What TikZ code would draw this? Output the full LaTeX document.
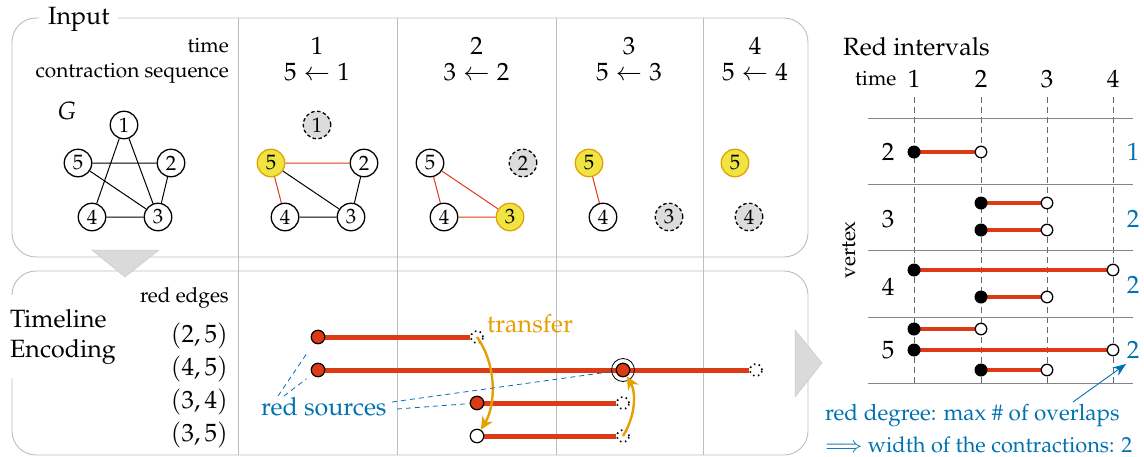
\documentclass[tikz,border=0pt]{standalone}
\usepackage[T1]{fontenc}
\usepackage{mathpazo}
\usetikzlibrary{arrows.meta}
\pgfdeclarelayer{bg}
\pgfsetlayers{bg,main}
\newcommand\fbig{\fontsize{25}{30}\selectfont}
\newcommand\fmid{\fontsize{22.5}{27}\selectfont}
\newcommand\fmidb{\fontsize{21.8}{27}\selectfont}
\newcommand\fsmall{\fontsize{20.8}{25}\selectfont}
\definecolor{oiorange}{HTML}{E69F00}
\definecolor{oiyellow}{HTML}{F0E442}
\definecolor{oiblue}{HTML}{0072B2}
\definecolor{rred}{HTML}{DD3B15}
\definecolor{panelgray}{HTML}{BDBDBD}
\definecolor{gonegray}{HTML}{DCDCDC}
\definecolor{trigray}{HTML}{DADADA}
\definecolor{gridgray}{HTML}{666666}
\tikzset{
  panel/.style={draw=panelgray, line width=0.9pt},
  gnode/.style={circle, draw, line width=1.3pt, minimum size=27.5pt, inner sep=0pt, fill=white, font=\fsmall},
  ynode/.style={gnode, fill=oiyellow, draw=oiorange},
  xnode/.style={gnode, fill=gonegray, dash pattern=on 3.5pt off 2.5pt},
  bedge/.style={line width=1pt, draw=black},
  redge/.style={line width=1pt, draw=rred},
  tline/.style={line width=5pt, draw=rred},
  rdot/.style={circle, draw, fill=rred, line width=1.2pt, minimum size=13.5pt, inner sep=0pt},
  wdotb/.style={circle, draw, fill=white, line width=1.2pt, minimum size=13.5pt, inner sep=0pt},
  enddot/.style={circle, draw, dash pattern=on 1.6pt off 3.4pt, line width=1.6pt, minimum size=12pt, inner sep=0pt},
  tarrow/.style={draw=oiorange, line width=2.4pt, -{Stealth[length=13pt, width=12pt]}},
  bdash/.style={draw=oiblue, line width=0.8pt, dash pattern=on 5pt off 4pt},
  barrow/.style={draw=oiblue, line width=0.9pt, -{Stealth[length=13pt, width=10pt]}},
  rline/.style={line width=4pt, draw=rred},
  bdot/.style={circle, fill=black, minimum size=13pt, inner sep=0pt},
  wdot/.style={circle, draw, fill=white, line width=1.3pt, minimum size=11.5pt, inner sep=0pt},
  vdash/.style={draw=gridgray, line width=0.8pt, dash pattern=on 6pt off 4pt},
  hline/.style={draw=gridgray!80, line width=1pt},
  txt/.style={inner sep=0pt},
  tri/.style={fill=trigray, draw=trigray!92!black, line width=0.5pt}
}
\newcommand\ivl[4]{%
  \node[bdot] (#1s) at (#2,#4) {};
  \node[wdot] (#1e) at (#3,#4) {};
  \begin{pgfonlayer}{bg}\draw[rline] (#1s.center) -- (#1e.center);\end{pgfonlayer}}
\begin{document}
\begin{tikzpicture}[x=1pt,y=-1pt]
\useasboundingbox (0,0) rectangle (1144,456);
\begin{pgfonlayer}{bg}
  \draw[panel, rounded corners=24pt] (12,18) rectangle (808,257);
  \draw[panel, rounded corners=24pt] (12,271) rectangle (808,455);
  \foreach \x in {238,397,556,703} \draw[panel] (\x,18) -- (\x,455);
  \foreach \x in {914,981,1047,1113} \draw[vdash] (\x,97) -- (\x,383);
  \foreach \y in {118,184,250,317,383} \draw[hline] (868,\y) -- (1133,\y);
\end{pgfonlayer}

% ---------- Input panel ----------
\node[font=\fbig, fill=white, inner xsep=9pt, inner ysep=2pt, anchor=base west] (inp) at (39,24) {Input};
\node[font=\fsmall, txt, anchor=base east] (hT) at (229,52) {time};
\node[font=\fsmall, txt, anchor=base east] (hC) at (229,77) {contraction sequence};
\node[font=\fbig, txt, anchor=base] (k1) at (317,54) {$1$};
\node[font=\fbig, txt, anchor=base] (q1) at (317,80) {$5\leftarrow 1$};
\node[font=\fbig, txt, anchor=base] (k2) at (476.5,54) {$2$};
\node[font=\fbig, txt, anchor=base] (q2) at (476.5,80) {$3\leftarrow 2$};
\node[font=\fbig, txt, anchor=base] (k3) at (629,54) {$3$};
\node[font=\fbig, txt, anchor=base] (q3) at (629,80) {$5\leftarrow 3$};
\node[font=\fbig, txt, anchor=base] (k4) at (755,54) {$4$};
\node[font=\fbig, txt, anchor=base] (q4) at (755,80) {$5\leftarrow 4$};
\node[font=\fbig, txt, anchor=base west] (Glab) at (57,119) {$G$};

% graph G
\node[gnode] (g1) at (124,125) {1};
\node[gnode] (g5) at (78,163) {5};
\node[gnode] (g2) at (171,163) {2};
\node[gnode] (g4) at (92,217) {4};
\node[gnode] (g3) at (158,217) {3};
\draw[bedge] (g1)--(g4) (g1)--(g3) (g5)--(g2) (g5)--(g3) (g2)--(g3) (g4)--(g3);

% column 1
\begin{scope}[shift={(193,0)}]
\node[xnode] (a1) at (124,125) {1};
\node[ynode] (a5) at (78,163) {5};
\node[gnode] (a2) at (171,163) {2};
\node[gnode] (a4) at (92,217) {4};
\node[gnode] (a3) at (158,217) {3};
\end{scope}
\draw[redge] (a5)--(a2) (a5)--(a4);
\draw[bedge] (a5)--(a3) (a2)--(a3) (a4)--(a3);

% column 2
\begin{scope}[shift={(352,0)}]
\node[gnode] (b5) at (78,163) {5};
\node[xnode] (b2) at (171,163) {2};
\node[gnode] (b4) at (92,217) {4};
\node[ynode] (b3) at (158,217) {3};
\end{scope}
\draw[redge] (b5)--(b4) (b5)--(b3) (b4)--(b3);

% column 3
\begin{scope}[shift={(511,0)}]
\node[ynode] (c5) at (78,163) {5};
\node[gnode] (c4) at (92,217) {4};
\node[xnode] (c3) at (158,217) {3};
\end{scope}
\draw[redge] (c5)--(c4);

% column 4
\begin{scope}[shift={(657,0)}]
\node[ynode] (d5) at (78,163) {5};
\node[xnode] (d4) at (92,217) {4};
\end{scope}

% ---------- Timeline panel ----------
\node[font=\fbig, fill=white, align=left, anchor=west, inner xsep=0pt, inner ysep=14pt] (tle) at (10,336.5) {Timeline\\Encoding};
\node[font=\fsmall, txt, anchor=base east] (redl) at (229,302) {red edges};
\node[font=\fbig, txt, anchor=base east] (p25) at (228,342) {$(2,5)$};
\node[font=\fbig, txt, anchor=base east] (p45) at (228,375) {$(4,5)$};
\node[font=\fbig, txt, anchor=base east] (p34) at (228,408) {$(3,4)$};
\node[font=\fbig, txt, anchor=base east] (p35) at (228,441) {$(3,5)$};

\node[rdot] (s25) at (318,337) {};
\node[enddot] (e25) at (477,337) {};
\node[rdot] (s45) at (318,370) {};
\node[rdot] (m45) at (623,370) {};
\node[enddot] (e45) at (756,370) {};
\node[rdot] (s34) at (477,403) {};
\node[enddot] (e34) at (623,403) {};
\node[wdotb] (s35) at (477,436) {};
\node[enddot] (e35) at (623,436) {};
\draw[line width=0.8pt] (m45) circle (11.5pt);
\begin{pgfonlayer}{bg}
  \draw[tline] (s25.center) -- (e25.west);
  \draw[tline] (s45.center) -- (e45.west);
  \draw[tline] (s34.center) -- (e34.west);
  \draw[tline] (s35.center) -- (e35.west);
\end{pgfonlayer}

\draw[tarrow] (e25.center) .. controls (497,365) and (496,405) .. (s35);
\draw[tarrow] (e35.center) .. controls (636,415) and (636,392) .. (m45);
\node[font=\fbig, text=oiorange, txt, anchor=base west] (tr) at (487,332) {transfer};

\node[font=\fbig, text=oiblue, txt, anchor=base west] (rs) at (261,415) {red sources};
\coordinate (rs1) at (278,396);
\coordinate (rs2) at (284,396);
\coordinate (rs3) at (392,402);
\coordinate (rs4) at (397,409);
\draw[bdash, shorten >=14pt] (rs1) -- (s25);
\draw[bdash, shorten >=7pt] (rs2) -- (s45);
\draw[bdash, shorten >=6pt] (rs3) -- (m45);
\draw[bdash] (rs4) -- (s34);

% ---------- Red intervals ----------
\node[font=\fbig, txt, anchor=base west] (ri) at (843,55) {Red intervals};
\node[font=\fsmall, txt, anchor=base west] (rtime) at (855,85) {time};
\node[font=\fbig, txt, anchor=base] (t1) at (914,87) {1};
\node[font=\fbig, txt, anchor=base] (t2) at (981,87) {2};
\node[font=\fbig, txt, anchor=base] (t3) at (1047,87) {3};
\node[font=\fbig, txt, anchor=base] (t4) at (1113,87) {4};
\node[font=\fbig, txt, anchor=base] (v2) at (888,160) {2};
\node[font=\fbig, txt, anchor=base] (v3) at (888,227) {3};
\node[font=\fbig, txt, anchor=base] (v4) at (888,295) {4};
\node[font=\fbig, txt, anchor=base] (v5) at (888,358) {5};
\node[font=\fsmall, txt, rotate=90] (vx) at (849,250) {vertex};
\node[font=\fbig, text=oiblue, txt, anchor=base] (w2) at (1133,160) {1};
\node[font=\fbig, text=oiblue, txt, anchor=base] (w3) at (1133,227) {2};
\node[font=\fbig, text=oiblue, txt, anchor=base] (w4) at (1133,293) {2};
\node[font=\fbig, text=oiblue, txt, anchor=base] (w5) at (1133,358) {2};

\ivl{ia}{914}{981}{152}
\ivl{ib}{981}{1047}{203}
\ivl{ic}{981}{1047}{230}
\ivl{id}{914}{1113}{270}
\ivl{ie}{981}{1047}{297}
\ivl{if}{914}{981}{329}
\ivl{ig}{914}{1113}{350}
\ivl{ih}{981}{1047}{370}

\node[font=\fmid, text=oiblue, txt, anchor=base west] (deg1) at (825,420) {red degree: max \# of overlaps};
\node[font=\fmidb, text=oiblue, txt, anchor=base west] (deg2) at (825,452) {$\Longrightarrow$ width of the contractions: 2};
\coordinate (ba1) at (1073,402);
\coordinate (ba2) at (1126,364);
\draw[barrow] (ba1) -- (ba2);

% ---------- gray arrows ----------
\filldraw[tri] (92,250) -- (159,250) -- (125,277) -- cycle;
\filldraw[tri] (795,330) -- (822,363) -- (795,397) -- cycle;
\end{tikzpicture}
\end{document}
